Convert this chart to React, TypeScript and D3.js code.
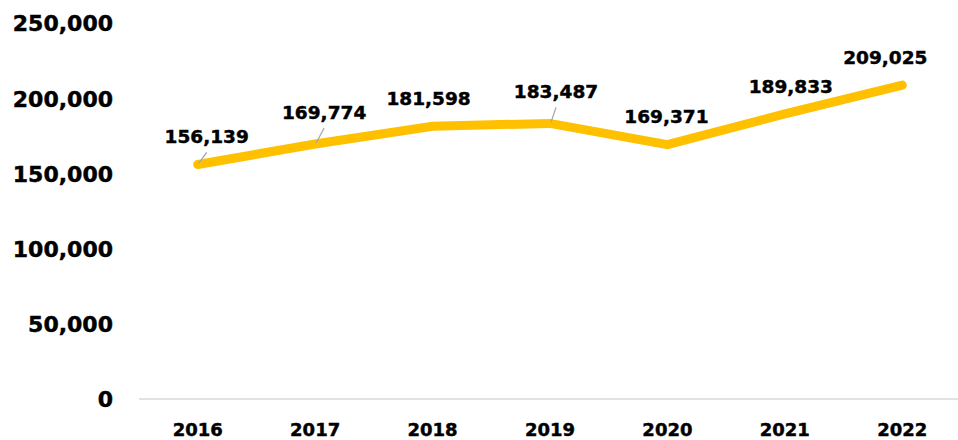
import React, { useRef, useEffect, FC } from "react";
import * as d3 from "d3";

// chart data
const years = ["2016", "2017", "2018", "2019", "2020", "2021", "2022"];
const values = [156139, 169774, 181598, 183487, 169371, 189833, 209025];
const yTicks = [0, 50000, 100000, 150000, 200000, 250000];
// which data labels get a leader line
const leaders = [true, true, false, true, false, false, false];
// label nudges (dx, dy from the point)
const labelDx = [9, 9, -4, 6, -1, 6, -17];
const labelDy = [-21, -25, -21, -25, -22, -21, -21];

const App: FC = () => {
  const chartRef = useRef<SVGSVGElement>(null);

  useEffect(() => {
    const width = 958;
    const height = 440;
    const svg = d3.select(chartRef.current);
    svg.selectAll("*").remove();
    svg.attr("width", width).attr("height", height);

    const font = "'DejaVu Sans', sans-serif";

    const xScale = d3.scalePoint<string>().domain(years).range([139, 961]).padding(0.5);
    const yScale = d3.scaleLinear().domain([0, 250000]).range([399, 23.5]);

    // shared bold text style (a thin stroke makes it a bit heavier)
    const boldText = (sel: d3.Selection<SVGTextElement, any, any, any>, size: string) =>
      sel
        .style("font-family", font)
        .style("font-weight", "bold")
        .style("font-size", size)
        .style("fill", "#000")
        .style("stroke", "#000")
        .style("stroke-width", 0.45);

    // y labels
    svg
      .append("g")
      .selectAll("text")
      .data(yTicks)
      .enter()
      .append("text")
      .attr("x", 113)
      .attr("y", (d) => yScale(d))
      .attr("dy", "0.36em")
      .attr("text-anchor", "end")
      .call(boldText, "22px")
      .text((d) => d3.format(",")(d));

    // baseline
    svg
      .append("line")
      .attr("x1", 139)
      .attr("x2", width)
      .attr("y1", yScale(0))
      .attr("y2", yScale(0))
      .style("stroke", "#d9d9d9")
      .style("stroke-width", 1.5);

    // x labels
    svg
      .append("g")
      .selectAll("text")
      .data(years)
      .enter()
      .append("text")
      .attr("x", (d) => xScale(d)!)
      .attr("y", 435.5)
      .attr("text-anchor", "middle")
      .call(boldText, "18px")
      .text((d) => d);

    // line
    const line = d3
      .line<number>()
      .x((_, i) => xScale(years[i])!)
      .y((d) => yScale(d));

    svg
      .append("path")
      .datum(values)
      .attr("d", line)
      .style("fill", "none")
      .style("stroke", "#FFC000")
      .style("stroke-width", 9)
      .style("stroke-linecap", "round")
      .style("stroke-linejoin", "miter");

    // leader lines
    svg
      .append("g")
      .selectAll("line")
      .data(values.map((v, i) => ({ v, i })).filter((d) => leaders[d.i]))
      .enter()
      .append("line")
      .attr("x1", (d) => xScale(years[d.i])! + 1)
      .attr("y1", (d) => yScale(d.v) - 1)
      .attr("x2", (d) => xScale(years[d.i])! + labelDx[d.i])
      .attr("y2", (d) => yScale(d.v) + labelDy[d.i] + 9)
      .style("stroke", "#a6a6a6")
      .style("stroke-width", 1.3);

    // data labels
    svg
      .append("g")
      .selectAll("text")
      .data(values)
      .enter()
      .append("text")
      .attr("x", (_, i) => xScale(years[i])! + labelDx[i])
      .attr("y", (d, i) => yScale(d) + labelDy[i])
      .attr("text-anchor", "middle")
      .call(boldText, "18.5px")
      .text((d) => d3.format(",")(d));
  }, []);

  return <svg ref={chartRef} style={{ position: "absolute", left: 0, top: 0, display: "block" }} />;
};

export default App;
